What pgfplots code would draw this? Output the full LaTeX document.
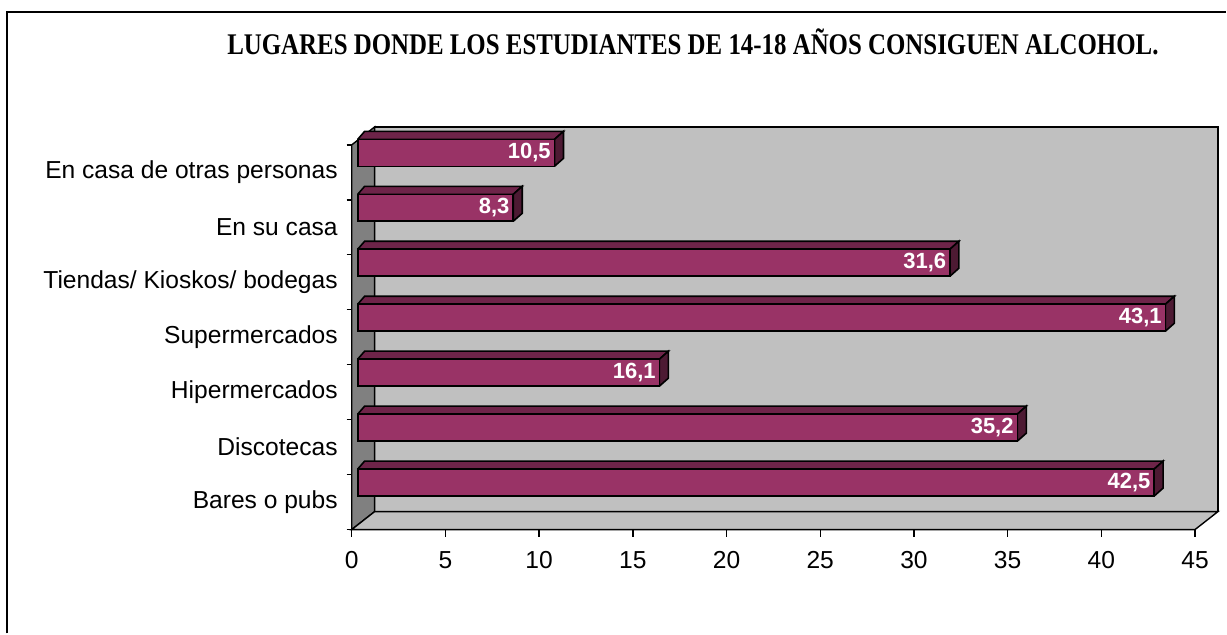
\documentclass[border=0pt]{standalone}
\usepackage{graphicx}
\usepackage{pgfplots}
\pgfplotsset{compat=1.18}
\usepackage{fontspec}
\setmainfont{Liberation Sans}
\newfontfamily\titlefont{Liberation Serif}
\definecolor{barfront}{HTML}{993366}
\definecolor{bartop}{HTML}{6E2449}
\definecolor{barside}{HTML}{4D1A33}
\definecolor{wall}{HTML}{C0C0C0}
\definecolor{sidewall}{HTML}{808080}
\begin{document}
\begin{tikzpicture}
\path (-176pt,-52pt) rectangle (437.5pt,265pt);
\draw[line width=1pt] (-172.25pt,-52pt) -- (-172.25pt,259.15pt) -- (437.5pt,259.15pt);
\node[font=\titlefont\bfseries\fontsize{15}{18}\selectfont, anchor=base, inner sep=0pt] at (170.75pt,237.5pt)
  {\resizebox{466pt}{\height}{LUGARES DONDE LOS ESTUDIANTES DE 14-18 AÑOS CONSIGUEN ALCOHOL.}};
\begin{axis}[
  at={(0pt,0pt)}, anchor=south west,
  scale only axis, width=422pt, height=192.5pt,
  xmin=0, xmax=45, ymin=0, ymax=7,
  clip=false, set layers,
  axis x line=bottom, axis y line=left,
  axis line style={-, line width=0.7pt},
  tick align=outside,
  major tick length=3.5pt, minor tick length=2.5pt,
  tick style={black, line width=0.7pt},
  xtick={0,5,...,45},
  ytick={0.5,1.5,...,6.5},
  minor ytick={0,1,...,7},
  major y tick style={draw=none},
  yticklabels={Bares o pubs, Discotecas, Hipermercados, Supermercados, Tiendas/ Kioskos/ bodegas, En su casa, En casa de otras personas},
  ticklabel style={font=\fontsize{12.3}{14}\selectfont},
  xticklabel style={yshift=-4pt},
  /pgf/number format/assume math mode=true,
]
\begin{pgfonlayer}{axis background}
\filldraw[fill=wall, draw=black, line width=0.7pt] (axis cs:1.2263,0.3273) rectangle (axis cs:46.2263,7.3273);
\filldraw[fill=sidewall, draw=black, line width=0.7pt] (axis cs:0,0) -- (axis cs:1.2263,0.3273) -- (axis cs:1.2263,7.3273) -- (axis cs:0,7) -- cycle;
\filldraw[fill=wall, draw=black, line width=0.7pt] (axis cs:0,0) -- (axis cs:45,0) -- (axis cs:46.2263,0.3273) -- (axis cs:1.2263,0.3273) -- cycle;
\end{pgfonlayer}
% top faces
\addplot[fill=bartop, draw=black, line width=0.8pt, xshift=3pt] coordinates {(0,1.1005) (42.5,1.1005) (42.98,1.246) (0.37,1.246) (0,1.1005)};
\addplot[fill=bartop, draw=black, line width=0.8pt, xshift=3pt] coordinates {(0,2.1005) (35.2,2.1005) (35.68,2.246) (0.37,2.246) (0,2.1005)};
\addplot[fill=bartop, draw=black, line width=0.8pt, xshift=3pt] coordinates {(0,3.1005) (16.1,3.1005) (16.58,3.246) (0.37,3.246) (0,3.1005)};
\addplot[fill=bartop, draw=black, line width=0.8pt, xshift=3pt] coordinates {(0,4.1005) (43.1,4.1005) (43.58,4.246) (0.37,4.246) (0,4.1005)};
\addplot[fill=bartop, draw=black, line width=0.8pt, xshift=3pt] coordinates {(0,5.1005) (31.6,5.1005) (32.08,5.246) (0.37,5.246) (0,5.1005)};
\addplot[fill=bartop, draw=black, line width=0.8pt, xshift=3pt] coordinates {(0,6.1005) (8.3,6.1005) (8.78,6.246) (0.37,6.246) (0,6.1005)};
\addplot[fill=bartop, draw=black, line width=0.8pt, xshift=3pt] coordinates {(0,7.1005) (10.5,7.1005) (10.98,7.246) (0.37,7.246) (0,7.1005)};
% side faces
\addplot[fill=barside, draw=black, line width=0.8pt, xshift=3pt] coordinates {(42.5,0.6095) (42.5,1.1005) (42.98,1.246) (42.98,0.755) (42.5,0.6095)};
\addplot[fill=barside, draw=black, line width=0.8pt, xshift=3pt] coordinates {(35.2,1.6095) (35.2,2.1005) (35.68,2.246) (35.68,1.755) (35.2,1.6095)};
\addplot[fill=barside, draw=black, line width=0.8pt, xshift=3pt] coordinates {(16.1,2.6095) (16.1,3.1005) (16.58,3.246) (16.58,2.755) (16.1,2.6095)};
\addplot[fill=barside, draw=black, line width=0.8pt, xshift=3pt] coordinates {(43.1,3.6095) (43.1,4.1005) (43.58,4.246) (43.58,3.755) (43.1,3.6095)};
\addplot[fill=barside, draw=black, line width=0.8pt, xshift=3pt] coordinates {(31.6,4.6095) (31.6,5.1005) (32.08,5.246) (32.08,4.755) (31.6,4.6095)};
\addplot[fill=barside, draw=black, line width=0.8pt, xshift=3pt] coordinates {(8.3,5.6095) (8.3,6.1005) (8.78,6.246) (8.78,5.755) (8.3,5.6095)};
\addplot[fill=barside, draw=black, line width=0.8pt, xshift=3pt] coordinates {(10.5,6.6095) (10.5,7.1005) (10.98,7.246) (10.98,6.755) (10.5,6.6095)};
% front faces
\addplot[xbar, bar width=13.5pt, bar shift=0pt, fill=barfront, draw=black, line width=0.8pt, xshift=3pt,
  nodes near coords, point meta=explicit symbolic,
  every node near coord/.style={anchor=east, inner sep=0pt, xshift=-1.5pt, text=white, font=\bfseries\fontsize{11}{13}\selectfont}]
  table[x=x, y=y, meta=label] {
x y label
42.5 0.855 {42,5}
35.2 1.855 {35,2}
16.1 2.855 {16,1}
43.1 3.855 {43,1}
31.6 4.855 {31,6}
8.3 5.855 {8,3}
10.5 6.855 {10,5}
};
\end{axis}
\end{tikzpicture}
\end{document}
